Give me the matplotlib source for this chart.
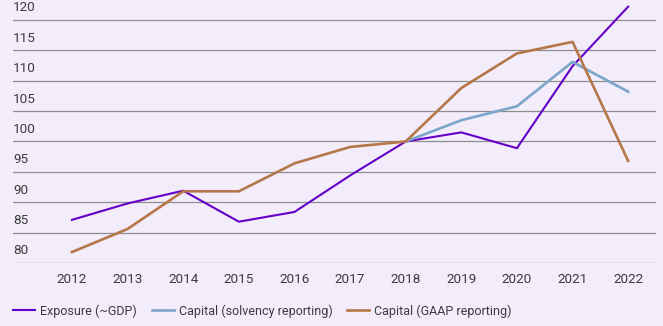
import matplotlib.pyplot as plt
from matplotlib import transforms

plt.rcParams['font.family'] = ['Roboto', 'DejaVu Sans']

# index values, 2018 = 100
years = [2012, 2013, 2014, 2015, 2016, 2017, 2018, 2019, 2020, 2021, 2022]
exposure = [87.1, 89.8, 91.9, 86.8, 88.4, 94.4, 100.0, 101.5, 98.9, 112.4, 122.2]
solvency_years = [2018, 2019, 2020, 2021, 2022]
capital_solvency = [100.0, 103.5, 105.8, 113.1, 108.2]
capital_gaap = [81.8, 85.6, 91.8, 91.8, 96.4, 99.1, 100.0, 108.8, 114.5, 116.4, 96.8]
yticks = [80, 85, 90, 95, 100, 105, 110, 115, 120]

bg = '#F3ECFA'
txt = '#3C3C3C'
grid_c = '#8E8E8E'

fig = plt.figure(figsize=(6.63, 3.26), dpi=100, facecolor=bg)
ax = fig.add_axes([0.0196, 0.1933, 0.9698, 0.8012], facecolor=bg)

ax.plot(years, exposure, color='#6400C8', lw=1.5, label='Exposure (~GDP)', zorder=3)
ax.plot(solvency_years, capital_solvency, color='#7BA5C9', lw=1.9,
        label='Capital (solvency reporting)', zorder=3)
ax.plot(years, capital_gaap, color='#B5774A', lw=1.9,
        label='Capital (GAAP reporting)', zorder=3)

ax.set_xlim(2010.94, 2022.5)
ax.set_ylim(80, 123)

# horizontal grid lines only, labels sit on top of each line
for v in yticks:
    ax.axhline(v, xmin=0, xmax=1, color=grid_c, lw=0.9, zorder=1)
trans = transforms.blended_transform_factory(ax.transAxes, ax.transData)
trans = trans + transforms.ScaledTranslation(0, 4 / 72, fig.dpi_scale_trans)
for v in yticks:
    ax.text(0, v, str(v), transform=trans, ha='left', va='bottom',
            fontsize=9.7, color=txt)

ax.set_yticks([])
ax.set_xticks(years)
ax.set_xticklabels([str(y) for y in years])
ax.tick_params(axis='x', length=0, pad=7.5, labelsize=9.7, labelcolor=txt)
for s in ax.spines.values():
    s.set_visible(False)

fig.legend(loc='center left', bbox_to_anchor=(0.0196, 0.046), ncol=3,
           frameon=False, fontsize=9.0, labelcolor=txt, handlelength=1.76,
           handletextpad=0.4, columnspacing=1.2, borderaxespad=0, borderpad=0)

plt.savefig('out.png', dpi=100, facecolor=bg)
